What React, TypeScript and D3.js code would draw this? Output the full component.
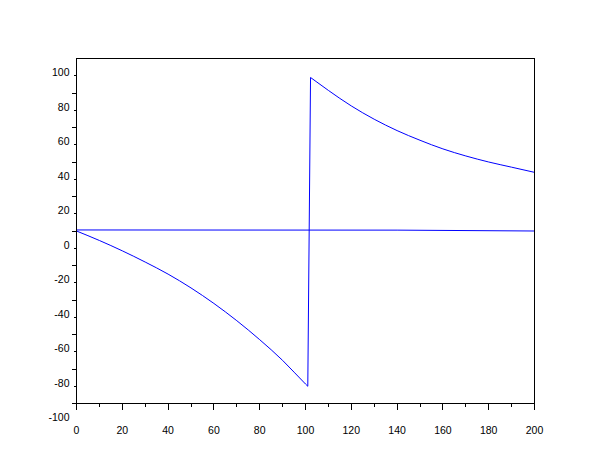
import React, { useEffect, useRef } from "react";
import * as d3 from "d3";

// flat line, roughly constant
const flatX = [0, 140, 200];
const flatY = [10.6, 10.5, 10.0];

// response curve: falls to the trough ...
const fallX = [0, 10, 20, 30, 40, 50, 60, 70, 80, 90, 100, 101];
const fallY = [10, 4.5, -1.5, -8, -15, -23, -32, -42, -53, -65, -78.7, -80];
// ... jumps up, then decays
const decayX = [102.2, 105, 110, 120, 130, 140, 150, 160, 170, 180, 190, 200];
const decayY = [99, 96.3, 91.5, 82.5, 74.8, 68.2, 62.6, 57.6, 53.5, 50, 47, 44];

const xMajor = [0, 20, 40, 60, 80, 100, 120, 140, 160, 180, 200];
const xMinor = [10, 30, 50, 70, 90, 110, 130, 150, 170, 190];
const yLabels = [-100, -80, -60, -40, -20, 0, 20, 40, 60, 80, 100];
const yMajor = [-80, -60, -40, -20, 0, 20, 40, 60, 80, 100];
const yMinor = [-90, -70, -50, -30, -10, 10, 30, 50, 70, 90];

const W = 610;
const H = 461;

const App: React.FC = () => {
  const ref = useRef<SVGSVGElement | null>(null);

  useEffect(() => {
    if (!ref.current) return;
    const svg = d3.select(ref.current);
    svg.selectAll("*").remove();

    const x = d3.scaleLinear().domain([0, 200]).range([76.5, 534.5]);
    const y = d3.scaleLinear().domain([-90, 110]).range([403.5, 58.5]);

    svg.append("rect").attr("width", W).attr("height", H).attr("fill", "#fff");

    const pts = (xs: number[], ys: number[]) => xs.map((v, i) => [v, ys[i]] as [number, number]);

    const straight = d3
      .line<[number, number]>()
      .x((d) => x(d[0]))
      .y((d) => y(d[1]));
    const smooth = d3
      .line<[number, number]>()
      .x((d) => x(d[0]))
      .y((d) => y(d[1]))
      .curve(d3.curveMonotoneX);

    const fall = pts(fallX, fallY);
    const decay = pts(decayX, decayY);

    const plot = svg.append("g").attr("fill", "none").attr("stroke", "#0000ff").attr("stroke-width", 1);
    plot.append("path").attr("d", straight(pts(flatX, flatY)));
    plot.append("path").attr("d", smooth(fall));
    plot.append("path").attr("d", straight([fall[fall.length - 1], decay[0]]));
    plot.append("path").attr("d", smooth(decay));

    // box
    const axes = svg.append("g").attr("stroke", "#000").attr("shape-rendering", "crispEdges");
    axes
      .append("rect")
      .attr("x", x(0))
      .attr("y", y(110))
      .attr("width", x(200) - x(0))
      .attr("height", y(-90) - y(110))
      .attr("fill", "none");

    // x ticks
    axes.selectAll(".xM").data(xMajor).enter().append("line")
      .attr("x1", (d) => x(d)).attr("x2", (d) => x(d))
      .attr("y1", y(-90)).attr("y2", y(-90) + 6);
    axes.selectAll(".xm").data(xMinor).enter().append("line")
      .attr("x1", (d) => x(d)).attr("x2", (d) => x(d))
      .attr("y1", y(-90)).attr("y2", y(-90) + 3);

    // y ticks
    axes.selectAll(".yM").data(yMajor).enter().append("line")
      .attr("x1", x(0) - 3).attr("x2", x(0))
      .attr("y1", (d) => y(d)).attr("y2", (d) => y(d));
    axes.selectAll(".ym").data(yMinor).enter().append("line")
      .attr("x1", x(0) - 5).attr("x2", x(0))
      .attr("y1", (d) => y(d)).attr("y2", (d) => y(d));

    const txt = svg.append("g").attr("font-family", "'Liberation Sans', Arial, sans-serif").attr("font-size", 10.5).attr("fill", "#000");

    txt.selectAll(".xl").data(xMajor).enter().append("text")
      .attr("x", (d) => x(d))
      .attr("y", 433.5)
      .attr("text-anchor", "middle")
      .text((d) => String(d));

    txt.selectAll(".yl").data(yLabels).enter().append("text")
      .attr("x", 69.5)
      .attr("y", (d) => y(d) + 0.5)
      .attr("text-anchor", "end")
      .text((d) => String(d));
  }, []);

  return (
    <svg
      ref={ref}
      width={W}
      height={H}
      style={{ position: "absolute", left: 0, top: 0, display: "block" }}
    ></svg>
  );
};

export default App;
